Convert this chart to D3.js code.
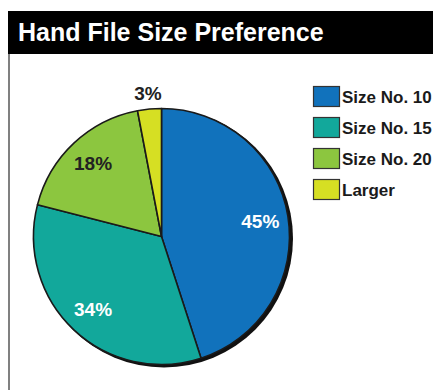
<!DOCTYPE html>
<html>
<head>
<meta charset="utf-8">
<script src="https://cdn.jsdelivr.net/npm/d3@7.9.0/dist/d3.min.js"></script>
<style>
  body { margin: 0; background: #fff; }
  svg { display: block; font-family: "Liberation Sans", Arial, sans-serif; font-weight: bold; }
</style>
</head>
<body>
<div id="chart"></div>
<script>
// ---- data ----
const categories = ["Size No. 10", "Size No. 15", "Size No. 20", "Larger"];
const values = [45, 34, 18, 3];
const colors = ["#1172bc", "#12a89b", "#8cc63f", "#d6df23"];
const labelColors = ["#fff", "#fff", "#222", "#222"];
const title = "Hand File Size Preference";

const width = 433;
const height = 390;

const svg = d3.select("#chart")
  .append("svg")
  .attr("width", width)
  .attr("height", height);

// title bar
svg.append("rect")
  .attr("x", 8).attr("y", 11)
  .attr("width", width - 8).attr("height", 43)
  .attr("fill", "#000");

svg.append("text")
  .attr("x", 18).attr("y", 41)
  .attr("fill", "#fff")
  .attr("font-size", 25)
  .text(title);

// left rule
svg.append("rect")
  .attr("x", 8).attr("y", 54)
  .attr("width", 2).attr("height", height - 54)
  .attr("fill", "#808080");

// ---- pie ----
const cx = 161.5, cy = 236.5, r = 128;

const pie = d3.pie().sort(null).value(d => d);
const arcs = pie(values);
const arc = d3.arc().innerRadius(0).outerRadius(r);
const insideLabel = d3.arc().innerRadius(100).outerRadius(100);
const outsideLabel = d3.arc().innerRadius(144).outerRadius(144);

const g = svg.append("g").attr("transform", `translate(${cx},${cy})`);

// drop shadow
g.append("circle")
  .attr("cx", 2.5).attr("cy", 2).attr("r", r + 1)
  .attr("fill", "#111");

g.selectAll("path")
  .data(arcs)
  .join("path")
  .attr("d", arc)
  .attr("fill", (d, i) => colors[i])
  .attr("stroke", "#1a1a1a")
  .attr("stroke-width", 1.6)
  .attr("stroke-linejoin", "round");

g.selectAll("text.pct")
  .data(arcs)
  .join("text")
  .attr("class", "pct")
  .attr("transform", d => {
    const c = (d.data < 5 ? outsideLabel : insideLabel).centroid(d);
    return `translate(${c[0]},${c[1]})`;
  })
  .attr("text-anchor", "middle")
  .attr("dy", "0.36em")
  .attr("font-size", 19)
  .attr("fill", (d, i) => labelColors[i])
  .text(d => d.data + "%");

// ---- legend ----
const legend = svg.append("g").attr("transform", "translate(313,86)");

const item = legend.selectAll("g")
  .data(categories)
  .join("g")
  .attr("transform", (d, i) => `translate(0,${i * 31})`);

item.append("rect")
  .attr("x", 0.5).attr("y", 0.5)
  .attr("width", 26).attr("height", 20)
  .attr("fill", (d, i) => colors[i])
  .attr("stroke", "#333")
  .attr("stroke-width", 1.2);

item.append("text")
  .attr("x", 29).attr("y", 17)
  .attr("font-size", 17)
  .attr("fill", "#1a1a1a")
  .text(d => d);
</script>
</body>
</html>
